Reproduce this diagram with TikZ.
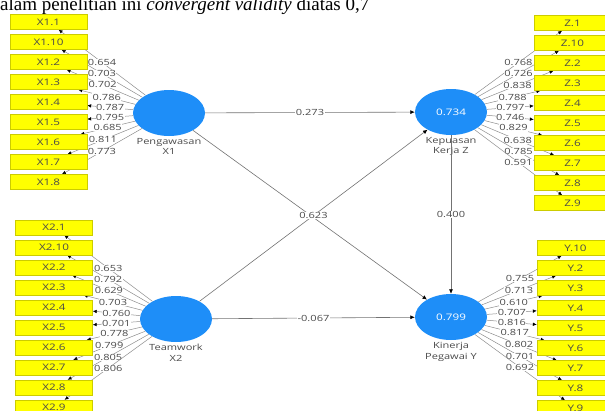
\documentclass[tikz,border=0pt]{standalone}
\usepackage{fontspec}
\setmainfont{Liberation Serif}
\newfontfamily\plsfont[FakeStretch=1.3]{Open Sans}
\usepackage{tikz}
\usetikzlibrary{shapes, arrows.meta, positioning, backgrounds}
\definecolor{PlsBlue}{HTML}{1E8EF8}
\definecolor{PlsYellow}{HTML}{FFFF00}
\definecolor{PlsLine}{HTML}{8C8C8C}
\definecolor{PlsText}{HTML}{4A4A4A}

\tikzset{
  indik/.style={rectangle, fill=PlsYellow, draw=PlsYellow!80!black, line width=0.3pt,
    minimum width=77pt, minimum height=15pt, inner sep=0pt,
    font=\plsfont\fontsize{9}{9}\selectfont, text=PlsText},
  konstruk/.style={ellipse, fill=PlsBlue, minimum width=72pt, minimum height=46pt,
    inner sep=0pt, font=\plsfont\fontsize{9}{9}\selectfont, text=white},
  muatan/.style={-{Latex[length=4pt, width=3.5pt, color=black]}, draw=PlsLine, line width=0.5pt},
  jalur/.style={-{Latex[length=4.5pt, width=4pt, color=black]}, draw=gray!90!black, line width=0.6pt},
  nilai/.style={fill=white, inner sep=0.4pt, font=\plsfont\fontsize{8.5}{9}\selectfont, text=PlsText},
  nama/.style={align=center, inner sep=1pt, font=\plsfont\fontsize{8.5}{10.5}\selectfont, text=PlsText}
}

\begin{document}
\begin{tikzpicture}[x=1pt, y=-1pt]
        \useasboundingbox (0,0) rectangle (605,410);
        \clip (0,0) rectangle (605,410);
        % Teks di atas gambar
        \node[anchor=base west, inner sep=0pt, font=\fontsize{19}{19}\selectfont] (judul) at (0,10.5)
          {alam penelitian ini \textit{convergent validity} diatas 0,7};
        % Variabel laten
        \node[konstruk] (x1) at (169,113) {};
        \node[konstruk] (z) at (451,112) {0.734};
        \node[konstruk] (x2) at (176,319) {};
        \node[konstruk] (y) at (451,317) {0.799};
        \node[nama, below=1pt of x1] (x1nama) {Pengawasan\\X1};
        \node[nama, below=1pt of z] (znama) {Kepuasan\\Kerja Z};
        \node[nama, below=1pt of x2] (x2nama) {Teamwork\\X2};
        \node[nama, below=1pt of y] (ynama) {Kinerja\\Pegawai Y};
        % Indikator dan outer loading
        \foreach \lab/\val [count=\i from 0] in {X1.1/0.654, X1.10/0.703, X1.2/0.702, X1.3/0.786, X1.4/0.787,
            X1.5/0.795, X1.6/0.685, X1.7/0.811, X1.8/0.773} {
          \node[indik] (x1i\i) at (48.5,22+20*\i) {\lab};
          \begin{pgfonlayer}{background}
            \draw[muatan] (x1) -- (x1i\i) node[nilai, midway] {\val};
          \end{pgfonlayer}
        }
        \foreach \lab/\val [count=\i from 0] in {X2.1/0.653, X2.10/0.792, X2.2/0.629, X2.3/0.703, X2.4/0.760,
            X2.5/0.701, X2.6/0.778, X2.7/0.799, X2.8/0.805, X2.9/0.806} {
          \node[indik] (x2i\i) at (54,227.5+20*\i) {\lab};
          \begin{pgfonlayer}{background}
            \draw[muatan] (x2) -- (x2i\i) node[nilai, midway] {\val};
          \end{pgfonlayer}
        }
        \foreach \lab/\val [count=\i from 0] in {Z.1/0.768, Z.10/0.726, Z.2/0.838, Z.3/0.788, Z.4/0.797,
            Z.5/0.746, Z.6/0.829, Z.7/0.638, Z.8/0.785, Z.9/0.591} {
          \node[indik] (zi\i) at (572.5,23+20*\i) {\lab};
          \begin{pgfonlayer}{background}
            \draw[muatan] (z) -- (zi\i) node[nilai, midway] {\val};
          \end{pgfonlayer}
        }
        \foreach \lab/\val [count=\i from 0] in {Y.10/0.755, Y.2/0.713, Y.3/0.610, Y.4/0.707, Y.5/0.816,
            Y.6/0.817, Y.7/0.802, Y.8/0.701, Y.9/0.692} {
          \node[indik] (yi\i) at (575.5,248+20*\i) {\lab};
          \begin{pgfonlayer}{background}
            \draw[muatan] (y) -- (yi\i) node[nilai, midway] {\val};
          \end{pgfonlayer}
        }
        % Koefisien jalur
        \draw[jalur] (x1) -- (y);
        \draw[jalur] (x2) -- (z) node[nilai, midway] {0.623};
        \draw[jalur] (x1) -- (z) node[nilai, midway] {0.273};
        \draw[jalur] (x2) -- (y) node[nilai, midway] {-0.067};
        \draw[jalur] (z) -- (y) node[nilai, midway] {0.400};
      \end{tikzpicture}
\end{document}
